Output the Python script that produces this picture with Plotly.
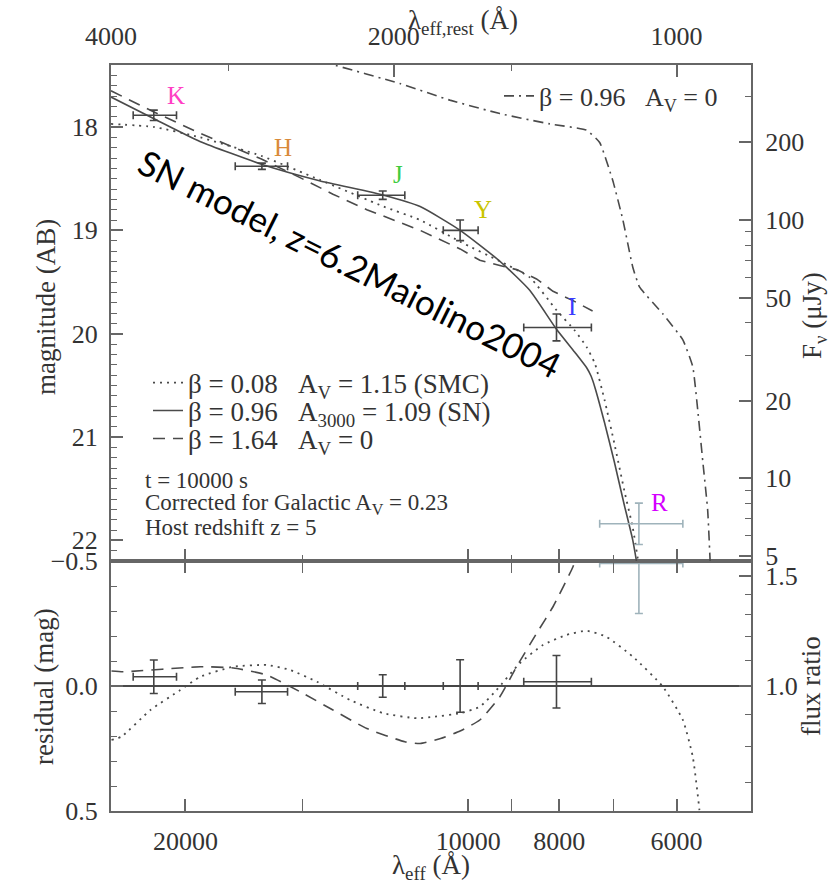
import numpy as np
import plotly.graph_objects as go

# ---------------- data ----------------
bands = ['K', 'H', 'J', 'Y', 'I', 'R']
band_colors = ['#ff3fc4', '#d98a3a', '#3fcc3f', '#c9c400', '#3a3aff', '#d400ff']
err_colors = ['#444444', '#444444', '#444444', '#444444', '#444444', '#9fb3bb']
lam_eff = [21610, 16580, 12330, 10200, 8054, 6581]
lam_long = [22730, 17700, 13110, 10630, 8727, 7245]
lam_short = [20440, 15570, 11680, 9760, 7394, 5909]
mag_obs = [17.887, 18.38, 18.66, 19.00, 19.94, 21.84]
mag_err = [0.05, 0.03, 0.04, 0.10, 0.13, 0.20]
resid = [-0.037, 0.023, 0.0, 0.0, -0.017, -0.49]
resid_err = [0.067, 0.047, 0.045, 0.105, 0.105, 0.20]

# SN-dust model (solid)
lam_sn = [24000, 21600, 19300, 16600, 14400, 12300, 11250, 10200, 9250, 8600,
          8050, 7700, 7480, 7400, 7330, 7160, 6990, 6820, 6680, 6570]
mag_sn = [17.71, 17.92, 18.14, 18.36, 18.52, 18.66, 18.77, 19.00, 19.30, 19.58,
          19.96, 20.18, 20.33, 20.41, 20.52, 20.86, 21.24, 21.66, 22.00, 22.38]
# SMC model (dotted)
lam_smc = [24000, 21600, 19300, 16600, 14400, 12300, 11250, 10200, 9250, 8600,
           8050, 7700, 7480, 7330, 7160, 6990, 6820, 6680, 6570]
mag_smc = [17.97, 18.00, 18.10, 18.28, 18.51, 18.77, 18.90, 19.11, 19.30, 19.455,
           19.775, 19.97, 20.13, 20.29, 20.64, 21.06, 21.52, 21.88, 22.29]
# no-dust beta=1.64 (dashed)
lam_pl = [24000, 21600, 19300, 16600, 15100, 13930, 12820, 11680, 11250, 10200,
          9719, 9254, 8882, 8458, 8123, 7735, 7372]
mag_pl = [17.65, 17.855, 18.06, 18.31, 18.49, 18.65, 18.80, 18.94, 19.00, 19.18,
          19.29, 19.34, 19.38, 19.47, 19.59, 19.68, 19.78]
# beta=0.96, A_V=0 (dash-dot)
lam_nd = [15100, 14020, 11820, 10460, 9254, 8189, 7485, 7245, 7015, 6844, 6679,
          6569, 6205, 5909, 5767, 5697, 5628, 5560, 5527, 5516]
mag_nd = [17.32, 17.39, 17.58, 17.74, 17.87, 17.97, 18.03, 18.15, 18.52, 18.90,
          19.36, 19.55, 19.81, 20.06, 20.32, 20.74, 21.23, 21.71, 22.20, 22.39]

# residual curves (relative to the SN model)
lam_res_smc = [23970, 23400, 21790, 20250, 19280, 17780, 16380, 15470, 14490, 13360,
               12310, 11340, 10890, 10200, 9719, 9329, 8813, 8325, 7862, 7485,
               7129, 6678, 6205, 5909, 5767, 5674, 5647]
res_smc = [0.216, 0.203, 0.096, 0.016, -0.037, -0.077, -0.084, -0.064, -0.017, 0.056,
           0.109, 0.129, 0.123, 0.109, 0.083, 0.016, -0.091, -0.164, -0.204, -0.221,
           -0.197, -0.117, 0.003, 0.136, 0.283, 0.496, 0.60]
lam_res_pl = [23970, 23300, 19280, 17780, 16380, 15100, 13930, 12820, 11680, 11250,
              10700, 10200, 9719, 9254, 8882, 8458, 8123, 7735, 7665]
res_pl = [-0.06, -0.057, -0.077, -0.072, -0.044, 0.023, 0.096, 0.17, 0.223, 0.23,
          0.21, 0.18, 0.136, 0.043, -0.077, -0.21, -0.317, -0.477, -0.52]

x_range_obs = [24000, 5000]
mag_range = [22.2, 17.4]
res_range = [0.5, -0.5]
z_host = 5
AB_ZP_uJy = 3631e6

mag_ticks = [18, 19, 20, 21, 22]
flux_ticks = [5, 10, 20, 50, 100, 200]
flux_minor = [6, 7, 8, 9, 30, 40, 60, 70, 80, 90, 300]
res_ticks = [-0.5, 0.0, 0.5]
res_ticktext = ['\u22120.5', '0.0', '0.5']
ratio_ticks = [1.0, 1.5]
ratio_minor = [0.6, 0.7, 0.8, 0.9, 1.1, 1.2, 1.3, 1.4]
obs_ticks = [20000, 10000, 8000, 6000]
obs_minor = [15000, 9000, 7000]
rest_ticks = [4000, 2000, 1000]
rest_minor = [3000, 1500]

# ---------------- figure ----------------
W, H = 832, 886
px_l, px_r = 111, 751
px_top, px_mid, px_bot = 65, 561, 811
xdom = [px_l / W, px_r / W]
ydom_top = [1 - px_mid / H, 1 - px_top / H]
ydom_bot = [1 - px_bot / H, 1 - px_mid / H]

LC = '#4a4a4a'
AX = '#666666'
SERIF = 'Liberation Serif'
TXT = '#333333'

fig = go.Figure()

# model curves, top panel
fig.add_trace(go.Scatter(x=lam_smc, y=mag_smc, mode='lines', xaxis='x2', yaxis='y',
                         line=dict(color=LC, width=1.8, dash='2px,5px', shape='spline', smoothing=0.5),
                         name='\u03b2 = 0.08\u2002 A<sub>V</sub> = 1.15 (SMC)', legend='legend'))
fig.add_trace(go.Scatter(x=lam_sn, y=mag_sn, mode='lines', xaxis='x2', yaxis='y',
                         line=dict(color=LC, width=1.6, shape='spline', smoothing=0.5),
                         name='\u03b2 = 0.96\u2002 A<sub>3000</sub> = 1.09 (SN)', legend='legend3'))
fig.add_trace(go.Scatter(x=lam_pl, y=mag_pl, mode='lines', xaxis='x2', yaxis='y',
                         line=dict(color=LC, width=1.6, dash='12px,8px'),
                         name='\u03b2 = 1.64\u2002 A<sub>V</sub> = 0', legend='legend4'))
fig.add_trace(go.Scatter(x=lam_nd, y=mag_nd, mode='lines', xaxis='x2', yaxis='y',
                         line=dict(color=LC, width=1.6, dash='10px,5px,2px,5px', shape='spline',
                                   smoothing=0.4),
                         name='\u03b2 = 0.96\u2002 A<sub>V</sub> = 0', legend='legend2'))

# photometry, top and residual panels
for i in range(len(bands)):
    ex = dict(type='data', symmetric=False, array=[lam_long[i] - lam_eff[i]],
              arrayminus=[lam_eff[i] - lam_short[i]], color=err_colors[i],
              thickness=1.6, width=4)
    fig.add_trace(go.Scatter(x=[lam_eff[i]], y=[mag_obs[i]], mode='markers', xaxis='x2', yaxis='y',
                             marker=dict(size=1, color=err_colors[i]), showlegend=False,
                             error_x=ex,
                             error_y=dict(type='data', array=[mag_err[i]], color=err_colors[i],
                                          thickness=1.6, width=4)))
    fig.add_trace(go.Scatter(x=[lam_eff[i]], y=[resid[i]], mode='markers', xaxis='x', yaxis='y2',
                             marker=dict(size=1, color=err_colors[i]), showlegend=False,
                             error_x=ex,
                             error_y=dict(type='data', array=[resid_err[i]], color=err_colors[i],
                                          thickness=1.6, width=4)))

# residual curves
fig.add_trace(go.Scatter(x=lam_res_smc, y=res_smc, mode='lines', xaxis='x', yaxis='y2',
                         line=dict(color=LC, width=1.8, dash='2px,5px', shape='spline', smoothing=0.5),
                         showlegend=False))
fig.add_trace(go.Scatter(x=lam_res_pl, y=res_pl, mode='lines', xaxis='x', yaxis='y2',
                         line=dict(color=LC, width=1.6, dash='12px,8px', shape='spline', smoothing=0.5),
                         showlegend=False))

# invisible companions so that the secondary (rest-frame / flux / ratio) axes are drawn
lam_rest = [l / (1 + z_host) for l in lam_eff]
flux_obs = [AB_ZP_uJy * 10 ** (-0.4 * m) for m in mag_obs]
ratio_obs = [10 ** (-0.4 * r) for r in resid]
inv = dict(mode='markers', marker=dict(size=1, opacity=0), showlegend=False, hoverinfo='skip')
fig.add_trace(go.Scatter(x=lam_rest, y=mag_obs, xaxis='x3', yaxis='y', **inv))
fig.add_trace(go.Scatter(x=lam_eff, y=flux_obs, xaxis='x2', yaxis='y3', **inv))
fig.add_trace(go.Scatter(x=lam_eff, y=ratio_obs, xaxis='x', yaxis='y4', **inv))

TF = 26


def tfont():
    return dict(family=SERIF, size=TF, color=TXT)


common = dict(showgrid=False, zeroline=False, showline=True, linecolor=AX, linewidth=2,
              ticks='inside', tickcolor=AX, tickwidth=1.5, automargin=False)

flux_range = [np.log10(AB_ZP_uJy) - 0.4 * mag_range[0], np.log10(AB_ZP_uJy) - 0.4 * mag_range[1]]
ratio_range = [-0.4 * res_range[0], -0.4 * res_range[1]]
rest_range = [np.log10(x_range_obs[0] / (1 + z_host)), np.log10(x_range_obs[1] / (1 + z_host))]
obs_range = [np.log10(x_range_obs[0]), np.log10(x_range_obs[1])]


def minor_arr(vals, length=6):
    return dict(tickmode='array', tickvals=vals, ticklen=length, ticks='inside',
                tickcolor=AX, tickwidth=1.3)


def leg(xpx, ypx, size=27):
    return dict(x=xpx / W, y=1 - ypx / H, xanchor='left', yanchor='middle',
                bgcolor='rgba(0,0,0,0)', font=dict(family=SERIF, size=size, color=TXT),
                itemwidth=30)


fig.update_layout(
    width=W, height=H, margin=dict(l=0, r=0, t=0, b=0, autoexpand=False),
    paper_bgcolor='white', plot_bgcolor='white',
    font=dict(family=SERIF, color=TXT),
    xaxis=dict(common, domain=xdom, anchor='y2', type='log', range=obs_range,
               tickmode='array', tickvals=obs_ticks, ticktext=[str(t) for t in obs_ticks],
               ticklen=12, mirror='allticks', ticklabelstandoff=6, tickfont=tfont(),
               minor=minor_arr(obs_minor)),
    xaxis2=dict(common, domain=xdom, anchor='y', type='log', matches='x', range=obs_range,
                tickmode='array', tickvals=obs_ticks, showticklabels=False, ticklen=12,
                minor=minor_arr(obs_minor)),
    xaxis3=dict(common, overlaying='x2', anchor='y', side='top', type='log', range=rest_range,
                tickmode='array', tickvals=rest_ticks, ticktext=[str(t) for t in rest_ticks],
                ticklen=12, ticklabelstandoff=8, tickfont=tfont(), minor=minor_arr(rest_minor)),
    yaxis=dict(common, domain=ydom_top, anchor='x2', range=mag_range,
               tickmode='array', tickvals=mag_ticks, ticktext=[str(t) for t in mag_ticks],
               ticklen=12, ticklabelstandoff=6, tickfont=tfont(),
               minor=dict(dtick=0.1, tick0=0, ticklen=6, ticks='inside', tickcolor=AX, tickwidth=1.2)),
    yaxis3=dict(common, overlaying='y', anchor='x2', side='right', type='log', range=flux_range,
                tickmode='array', tickvals=flux_ticks, ticktext=[str(t) for t in flux_ticks],
                ticklen=12, ticklabelstandoff=7, tickfont=tfont(), minor=minor_arr(flux_minor)),
    yaxis2=dict(common, domain=ydom_bot, anchor='x', range=res_range,
                tickmode='array', tickvals=res_ticks, ticktext=res_ticktext, ticklen=12,
                ticklabelstandoff=6, zeroline=True, zerolinecolor=LC, zerolinewidth=1.8,
                tickfont=tfont(),
                minor=dict(dtick=0.1, tick0=0, ticklen=6, ticks='inside', tickcolor=AX, tickwidth=1.2)),
    yaxis4=dict(common, overlaying='y2', anchor='x', side='right', type='log', range=ratio_range,
                tickmode='array', tickvals=ratio_ticks, ticktext=['%.1f' % t for t in ratio_ticks],
                ticklen=12, ticklabelstandoff=7, tickfont=tfont(), minor=minor_arr(ratio_minor)),
    legend=leg(148, 383),
    legend3=leg(148, 411),
    legend4=leg(148, 439),
    legend2=leg(499, 96, 26),
)

ann = []
# band labels
offsets = [(22, 20), (21, 19), (15, 21), (23, 21), (16, 21), (21, 21)]
for i, b in enumerate(bands):
    ann.append(dict(x=np.log10(lam_eff[i]), y=mag_obs[i], xref='x2', yref='y', text=b,
                    showarrow=False, xshift=offsets[i][0], yshift=offsets[i][1],
                    xanchor='center', yanchor='middle',
                    font=dict(family=SERIF, size=25, color=band_colors[i])))
# notes
notes = ['t = 10000 s', 'Corrected for Galactic A<sub>V</sub> = 0.23', 'Host redshift z = 5']
for k, t in enumerate(notes):
    ann.append(dict(x=143 / W, y=1 - (480 + 23.5 * k) / H, xref='paper', yref='paper', text=t,
                    showarrow=False, xanchor='left', yanchor='middle',
                    font=dict(family=SERIF, size=23, color=TXT)))
# axis titles
tf = dict(family=SERIF, size=27, color=TXT)
titles = [
    (46, 307, 'magnitude (AB)', -90),
    (44, 687, 'residual (mag)', -90),
    (814, 316, 'F<sub>\u03bd</sub> (\u03bcJy)', -90),
    (811, 686, 'flux ratio', -90),
    (431, 867, '\u03bb<sub>eff</sub> (\u00c5)', 0),
    (463, 22, '\u03bb<sub>eff,rest</sub> (\u00c5)', 0),
]
for xp, yp, t, a in titles:
    ann.append(dict(x=xp / W, y=1 - yp / H, xref='paper', yref='paper', text=t, textangle=a,
                    showarrow=False, xanchor='center', yanchor='middle', font=tf))
# overlay caption
ann.append(dict(x=350 / W, y=1 - 263 / H, xref='paper', yref='paper', text='SN model, z=6.2Maiolino2004',
                textangle=26.5, showarrow=False, xanchor='center', yanchor='middle',
                font=dict(family='Lato', size=35, color='#000000')))
fig.update_layout(annotations=ann)

fig.write_html('out.html')
